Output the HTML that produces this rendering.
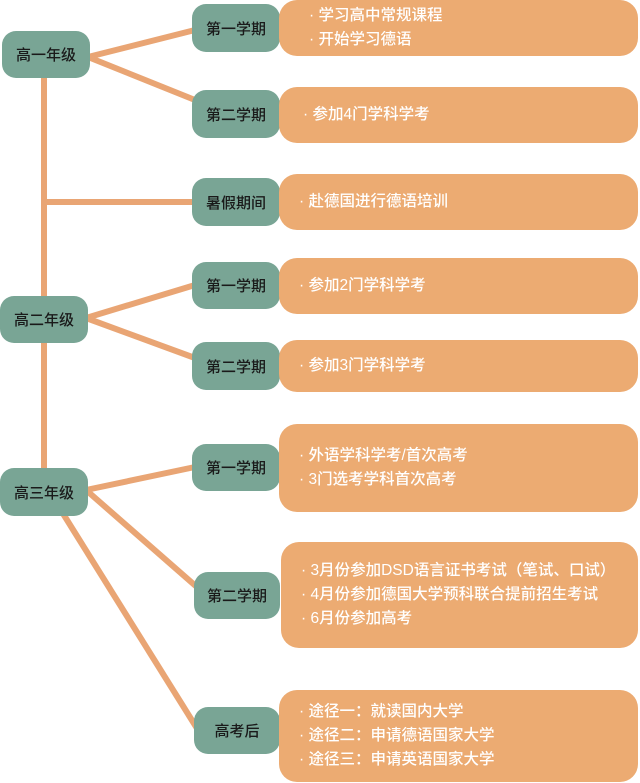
<!DOCTYPE html>
<html><head><meta charset="utf-8"><style>
body{margin:0;width:640px;height:783px;background:#fff;position:relative;overflow:hidden;font-family:"Liberation Sans","Noto Sans CJK SC",sans-serif}
.t{position:absolute;background:#79a595;border-radius:14px;color:#1a1a1a;font-size:15px;font-weight:500;display:flex;align-items:center;justify-content:center}
.o{position:absolute;background:#ecab72;border-radius:18px;color:#fff;font-size:15.5px;font-weight:500;line-height:24px;display:flex;flex-direction:column;justify-content:center;padding-left:20px;box-sizing:border-box}
svg{position:absolute;left:0;top:0}
</style></head><body>
<svg width="640" height="783"><g stroke="#e9a574" stroke-width="6" fill="none">
<line x1="44" y1="70" x2="44" y2="475"/>
<line x1="44" y1="202" x2="195" y2="202"/>
<line x1="88" y1="57" x2="195" y2="30"/>
<line x1="88" y1="57" x2="195" y2="100"/>
<line x1="86" y1="318" x2="195" y2="285"/>
<line x1="86" y1="318" x2="195" y2="358"/>
<line x1="86" y1="490" x2="195" y2="467"/>
<line x1="86" y1="490" x2="198" y2="588"/>
<line x1="62" y1="512" x2="198" y2="730"/>
</g></svg>
<div class="t" style="left:2px;top:31px;width:88px;height:47px">高一年级</div>
<div class="t" style="left:0;top:296px;width:88px;height:47px">高二年级</div>
<div class="t" style="left:0;top:468px;width:88px;height:48px">高三年级</div>
<div class="t" style="left:192px;top:4px;width:88px;height:48px">第一学期</div>
<div class="t" style="left:192px;top:90px;width:88px;height:48px">第二学期</div>
<div class="t" style="left:192px;top:178px;width:88px;height:48px">暑假期间</div>
<div class="t" style="left:192px;top:262px;width:88px;height:47px">第一学期</div>
<div class="t" style="left:192px;top:342px;width:88px;height:48px">第二学期</div>
<div class="t" style="left:192px;top:444px;width:88px;height:47px">第一学期</div>
<div class="t" style="left:194px;top:572px;width:86px;height:47px">第二学期</div>
<div class="t" style="left:194px;top:707px;width:86px;height:47px">高考后</div>
<div class="o" style="left:279px;top:0;width:359px;height:56px;padding-left:30px">· 学习高中常规课程<br>· 开始学习德语</div>
<div class="o" style="left:279px;top:87px;width:359px;height:56px;padding-left:24px">· 参加4门学科学考</div>
<div class="o" style="left:279px;top:174px;width:359px;height:56px;padding-left:20px">· 赴德国进行德语培训</div>
<div class="o" style="left:279px;top:258px;width:359px;height:56px;padding-left:20px">· 参加2门学科学考</div>
<div class="o" style="left:279px;top:340px;width:359px;height:52px;padding-left:20px">· 参加3门学科学考</div>
<div class="o" style="left:279px;top:424px;width:359px;height:88px;padding-left:20px">· 外语学科学考/首次高考<br>· 3门选考学科首次高考</div>
<div class="o" style="left:281px;top:542px;width:357px;height:106px;padding-left:20px">· 3月份参加DSD语言证书考试（笔试、口试）<br>· 4月份参加德国大学预科联合提前招生考试<br>· 6月份参加高考</div>
<div class="o" style="left:279px;top:690px;width:359px;height:92px;padding-left:20px">· 途径一：就读国内大学<br>· 途径二：申请德语国家大学<br>· 途径三：申请英语国家大学</div>
</body></html>
